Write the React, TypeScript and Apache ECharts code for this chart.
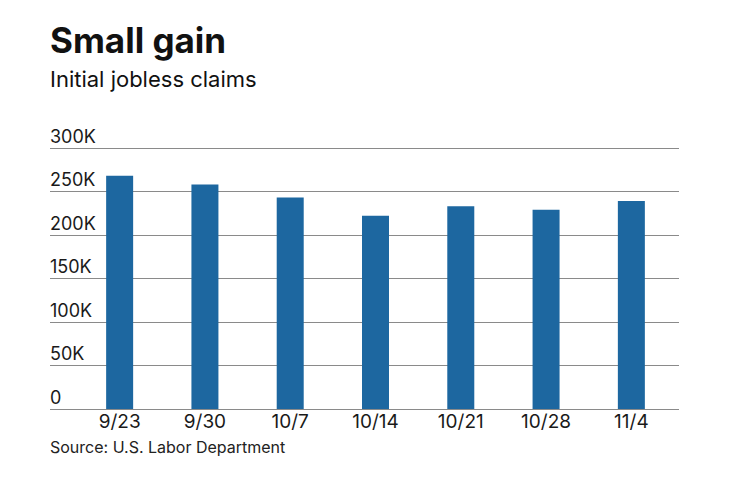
import React, { useEffect, useRef } from "react";
import * as echarts from "echarts";

const categories = ["9/23", "9/30", "10/7", "10/14", "10/21", "10/28", "11/4"];
const claims = [268000, 258000, 243000, 222000, 233000, 229000, 239000];
const yTicks = { min: 0, max: 300000, interval: 50000 };
const titleText = "Small gain";
const subtitleText = "Initial jobless claims";
const sourceText = "Source: U.S. Labor Department";

const FONT = "Inter";

export default function App() {
  const ref = useRef<HTMLDivElement>(null);
  useEffect(() => {
    if (!ref.current) return;
    const chart = echarts.init(ref.current, null, { renderer: "svg" });
    chart.setOption({
      animation: false,
      backgroundColor: "#ffffff",
      textStyle: { fontFamily: FONT },
      grid: [
        { left: 77, top: 148, width: 597, height: 261 },
        { left: 50, top: 148, width: 629, height: 261 },
      ],
      xAxis: [
        {
          type: "category",
          gridIndex: 0,
          data: categories,
          axisLine: { show: false },
          axisTick: { show: false },
          axisLabel: { color: "#1a1a1a", fontSize: 19, margin: 3, fontFamily: FONT },
        },
        { type: "value", gridIndex: 1, min: 0, max: 1, show: false },
      ],
      yAxis: [
        { type: "value", gridIndex: 0, min: yTicks.min, max: yTicks.max, interval: yTicks.interval, show: false },
        {
          type: "value",
          gridIndex: 1,
          min: yTicks.min,
          max: yTicks.max,
          interval: yTicks.interval,
          axisLine: { show: false },
          axisTick: { show: false },
          splitLine: { show: true, lineStyle: { color: "#8a8a8a", width: 1 } },
          axisLabel: {
            inside: true,
            margin: 0,
            verticalAlign: "bottom",
            padding: [0, 0, 3, 0],
            fontSize: 18,
            color: "#1a1a1a",
            fontFamily: FONT,
            formatter: (v: number) => (v === 0 ? "0" : v / 1000 + "K"),
          },
        },
      ],
      series: [
        {
          type: "bar",
          xAxisIndex: 0,
          yAxisIndex: 0,
          data: claims,
          barWidth: 27,
          itemStyle: { color: "#1d67a0" },
          z: 3,
        },
      ],
      graphic: [
        {
          type: "text",
          left: 50,
          top: 22,
          style: { text: titleText, fontSize: 35, fontWeight: "bold", fill: "#111", fontFamily: FONT },
        },
        {
          type: "text",
          left: 50,
          top: 68,
          style: { text: subtitleText, fontSize: 22, fill: "#111", fontFamily: FONT },
        },
        {
          type: "text",
          left: 50,
          top: 439,
          style: { text: sourceText, fontSize: 16, fill: "#222", fontFamily: FONT },
        },
      ],
    });
    return () => chart.dispose();
  }, []);
  return <div ref={ref} style={{ position: "absolute", left: 0, top: 0, width: 740, height: 482 }} />;
}
